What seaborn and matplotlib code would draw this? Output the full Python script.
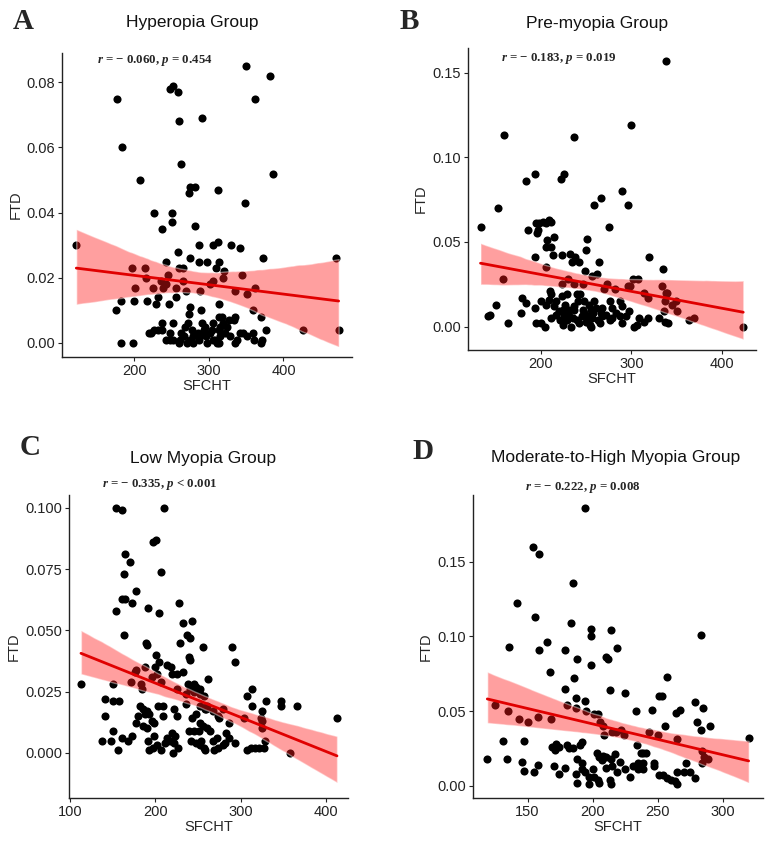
import numpy as np
import pandas as pd
import seaborn as sns
import matplotlib.pyplot as plt
from matplotlib.ticker import FormatStrFormatter

# values (SFCHT, FTD)
hyper_sfcht = [122, 177, 184, 208, 248, 252, 259, 260, 291, 263, 273, 275, 281, 312, 350, 382, 362, 386, 349,
               226, 251, 251, 237, 281, 258, 243, 275, 287, 306, 312, 329, 341, 287, 297, 314, 373, 470, 260,
               265, 197, 214, 309, 320, 345, 319, 215, 245, 201, 225, 235, 239, 243, 256, 265, 269, 288, 301,
               306, 335, 351, 362, 182, 199, 217, 229, 232, 246, 256, 175, 275, 273, 289, 314, 359, 370, 335,
               314, 327, 182, 198, 426, 474, 361, 370,
               220, 222, 226, 237, 237, 243, 248, 252, 252, 260, 262, 266, 270, 272, 277, 278, 268, 285, 287,
               290, 293, 296, 297, 302, 306, 308, 311, 313, 315, 317, 319, 322, 324, 328, 333, 337, 342, 346,
               351, 359, 377, 371, 335, 232, 279, 288, 304, 313, 306, 261, 295, 315, 274, 248]
hyper_ftd = [0.030, 0.075, 0.060, 0.050, 0.078, 0.079, 0.077, 0.068, 0.069, 0.055, 0.046, 0.048, 0.048, 0.047,
             0.085, 0.082, 0.075, 0.052, 0.043, 0.040, 0.040, 0.037, 0.035, 0.036, 0.028, 0.025, 0.026, 0.030,
             0.030, 0.031, 0.030, 0.029, 0.025, 0.025, 0.025, 0.026, 0.026, 0.023, 0.023, 0.023, 0.023, 0.023,
             0.022, 0.021, 0.020, 0.020, 0.021, 0.017, 0.017, 0.019, 0.017, 0.018, 0.017, 0.019, 0.016, 0.016,
             0.018, 0.019, 0.016, 0.015, 0.017, 0.013, 0.013, 0.013, 0.012, 0.014, 0.012, 0.014, 0.010, 0.011,
             0.009, 0.010, 0.012, 0.010, 0.008, 0.008, 0.008, 0.007, 0.000, 0.000, 0.004, 0.004, 0.001, 0.000,
             0.003, 0.003, 0.004, 0.006, 0.004, 0.001, 0.001, 0.001, 0.006, 0.000, 0.003, 0.002, 0.000, 0.006,
             0.004, 0.000, 0.005, 0.003, 0.001, 0.006, 0.004, 0.002, 0.000, 0.003, 0.006, 0.001, 0.000, 0.004,
             0.002, 0.008, 0.006, 0.003, 0.005, 0.002, 0.007, 0.001, 0.003, 0.003, 0.002, 0.003, 0.004, 0.001,
             0.000, 0.004, 0.002, 0.002, 0.004, 0.000, 0.001, 0.001, 0.005, 0.005, 0.001, 0.003]

premyo_sfcht = [338, 300, 159, 237, 193, 226, 183, 222, 290, 296, 259, 267, 152, 133, 275, 186, 195, 198, 202,
                209, 211, 206, 196, 197, 214, 207, 211, 205, 251, 250, 193, 213, 223, 232, 238, 234, 242, 264,
                320, 335, 205, 249, 257, 262, 302, 307, 158, 230, 223, 237, 247, 273, 270, 282, 296, 299, 334,
                339, 314, 319, 210, 211, 240, 243, 223, 179, 183, 200, 206, 209, 214, 217, 229, 227, 241, 237,
                236, 248, 253, 259, 261, 268, 266, 279, 276, 287, 290, 297, 294, 309, 336, 337, 340, 349, 345,
                351, 331, 337, 341, 364, 370, 424, 314, 319, 303, 306, 143, 141, 150, 164, 178, 193, 194, 200,
                204, 211, 217, 220, 221, 224, 226, 229, 231, 233, 235, 240, 242, 245, 248, 250, 252, 254, 255,
                257, 258, 263, 265, 268, 272, 276, 279, 283, 288, 290, 224, 231, 246, 255, 227]
premyo_ftd = [0.157, 0.119, 0.113, 0.112, 0.090, 0.090, 0.086, 0.087, 0.080, 0.072, 0.072, 0.076, 0.070, 0.059,
              0.059, 0.057, 0.061, 0.061, 0.062, 0.063, 0.062, 0.061, 0.055, 0.057, 0.053, 0.051, 0.047, 0.047,
              0.052, 0.045, 0.041, 0.042, 0.042, 0.043, 0.041, 0.038, 0.038, 0.038, 0.041, 0.034, 0.035, 0.033,
              0.030, 0.031, 0.028, 0.028, 0.028, 0.028, 0.025, 0.025, 0.025, 0.025, 0.022, 0.022, 0.024, 0.024,
              0.024, 0.020, 0.020, 0.017, 0.021, 0.019, 0.019, 0.019, 0.018, 0.017, 0.014, 0.015, 0.013, 0.016,
              0.012, 0.015, 0.019, 0.013, 0.015, 0.012, 0.010, 0.015, 0.013, 0.015, 0.011, 0.011, 0.008, 0.011,
              0.015, 0.015, 0.012, 0.009, 0.006, 0.005, 0.009, 0.015, 0.020, 0.015, 0.013, 0.009, 0.005, 0.003,
              0.002, 0.004, 0.005, 0.000, 0.003, 0.005, 0.000, 0.001, 0.007, 0.006, 0.013, 0.002, 0.008, 0.011,
              0.002, 0.002, 0.000, 0.005, 0.007, 0.009, 0.004, 0.001, 0.007, 0.004, 0.006, 0.000, 0.005, 0.004,
              0.002, 0.006, 0.008, 0.003, 0.006, 0.001, 0.000, 0.005, 0.008, 0.004, 0.002, 0.006, 0.007, 0.004,
              0.005, 0.008, 0.006, 0.002, 0.010, 0.010, 0.010, 0.010, 0.004]

lowmyo_sfcht = [154, 161, 210, 197, 201, 207, 165, 171, 164, 177, 161, 165, 173, 228, 154, 192, 205, 232, 243,
                164, 237, 241, 229, 189, 190, 256, 290, 293, 240, 241, 201, 204, 214, 218, 200, 188, 220, 225,
                233, 178, 176, 172, 196, 202, 207, 183, 184, 113, 150, 238, 242, 245, 248, 252, 241, 252, 257,
                245, 262, 226, 236, 236, 307, 313, 313, 330, 347, 347, 366, 413, 325, 324, 325, 329, 325, 304,
                280, 275, 286, 283, 286, 293, 358, 307, 312, 317, 322, 327, 261, 259, 268, 273, 252, 258, 248,
                243, 252, 256, 240, 246, 251, 261, 264, 242, 248, 252, 257, 254, 258, 269, 274, 279, 282, 272,
                268, 141, 141, 150, 158, 138, 148, 150, 156, 161, 168, 173, 177, 180, 182, 186, 188, 190, 193,
                186, 190, 196, 199, 192, 193, 197, 199, 202, 203, 209, 209, 207, 212, 214, 217, 220, 222, 223,
                222, 225, 221, 227]
lowmyo_ftd = [0.100, 0.099, 0.100, 0.086, 0.087, 0.074, 0.081, 0.078, 0.073, 0.066, 0.063, 0.063, 0.061, 0.061,
              0.058, 0.059, 0.057, 0.053, 0.054, 0.048, 0.048, 0.047, 0.045, 0.045, 0.044, 0.043, 0.043, 0.037,
              0.039, 0.038, 0.040, 0.037, 0.036, 0.035, 0.035, 0.035, 0.032, 0.032, 0.033, 0.034, 0.033, 0.029,
              0.031, 0.032, 0.029, 0.028, 0.026, 0.028, 0.028, 0.028, 0.027, 0.028, 0.027, 0.026, 0.026, 0.024,
              0.023, 0.025, 0.030, 0.026, 0.024, 0.020, 0.023, 0.026, 0.019, 0.021, 0.021, 0.019, 0.019, 0.014,
              0.017, 0.014, 0.010, 0.005, 0.013, 0.014, 0.018, 0.014, 0.012, 0.008, 0.006, 0.004, 0.000, 0.001,
              0.002, 0.002, 0.002, 0.002, 0.019, 0.018, 0.017, 0.015, 0.019, 0.018, 0.016, 0.014, 0.012, 0.011,
              0.009, 0.009, 0.009, 0.010, 0.009, 0.005, 0.004, 0.003, 0.002, 0.005, 0.001, 0.001, 0.002, 0.003,
              0.004, 0.006, 0.005, 0.022, 0.015, 0.021, 0.021, 0.005, 0.005, 0.009, 0.001, 0.006, 0.005, 0.007,
              0.012, 0.015, 0.019, 0.018, 0.016, 0.017, 0.016, 0.011, 0.010, 0.013, 0.012, 0.005, 0.001, 0.002,
              0.007, 0.003, 0.019, 0.019, 0.015, 0.001, 0.004, 0.006, 0.005, 0.008, 0.004, 0.007, 0.018, 0.015,
              0.000, 0.002]

modhigh_sfcht = [194, 154, 159, 185, 142, 156, 183, 199, 199, 214, 283, 136, 165, 159, 179, 219, 188, 210, 212,
                 199, 167, 186, 257, 179, 213, 225, 187, 194, 251, 253, 180, 187, 195, 125, 135, 143, 150, 158,
                 168, 233, 246, 264, 267, 280, 285, 279, 290, 256, 201, 204, 206, 208, 209, 215, 218, 222, 224,
                 243, 250, 234, 265, 283, 320, 119, 131, 134, 147, 146, 147, 155, 158, 169, 172, 171, 174, 180,
                 182, 185, 190, 192, 179, 170, 174, 188, 187, 188, 192, 192, 194, 197, 197, 200, 201, 204, 205,
                 203, 205, 207, 208, 210, 213, 214, 210, 214, 217, 215, 219, 221, 225, 229, 231, 235, 237, 239,
                 241, 235, 239, 239, 247, 247, 251, 254, 257, 260, 263, 265, 265, 270, 272, 275, 279, 284, 286,
                 284, 289]
modhigh_ftd = [0.186, 0.160, 0.155, 0.136, 0.122, 0.113, 0.109, 0.105, 0.100, 0.104, 0.101, 0.093, 0.096, 0.091,
               0.091, 0.092, 0.085, 0.086, 0.085, 0.081, 0.076, 0.072, 0.073, 0.065, 0.064, 0.062, 0.059, 0.057,
               0.060, 0.060, 0.054, 0.052, 0.050, 0.054, 0.050, 0.045, 0.043, 0.046, 0.045, 0.050, 0.051, 0.049,
               0.051, 0.043, 0.052, 0.056, 0.040, 0.040, 0.048, 0.048, 0.043, 0.040, 0.034, 0.036, 0.036, 0.037,
               0.034, 0.036, 0.034, 0.027, 0.031, 0.037, 0.032, 0.018, 0.030, 0.018, 0.030, 0.016, 0.010, 0.009,
               0.014, 0.026, 0.028, 0.024, 0.026, 0.027, 0.025, 0.025, 0.027, 0.029, 0.012, 0.013, 0.008, 0.018,
               0.008, 0.002, 0.015, 0.011, 0.009, 0.006, 0.001, 0.011, 0.006, 0.004, 0.002, 0.022, 0.019, 0.017,
               0.020, 0.019, 0.004, 0.001, 0.012, 0.018, 0.021, 0.013, 0.009, 0.016, 0.011, 0.006, 0.013, 0.011,
               0.022, 0.022, 0.022, 0.015, 0.015, 0.011, 0.015, 0.013, 0.007, 0.007, 0.005, 0.004, 0.003, 0.001,
               0.009, 0.009, 0.015, 0.009, 0.005, 0.015, 0.019, 0.023, 0.018]

letters = ["A", "B", "C", "D"]
titles = ["Hyperopia Group", "Pre-myopia Group", "Low Myopia Group", "Moderate-to-High Myopia Group"]
r_values = ["0.060", "0.183", "0.335", "0.222"]
p_texts = ["= 0.454", "= 0.019", "< 0.001", "= 0.008"]

groups = [(hyper_sfcht, hyper_ftd), (premyo_sfcht, premyo_ftd),
          (lowmyo_sfcht, lowmyo_ftd), (modhigh_sfcht, modhigh_ftd)]

sns.set_style("white")
plt.rcParams["font.family"] = ["Liberation Sans", "DejaVu Sans"]
plt.rcParams["mathtext.fontset"] = "custom"
plt.rcParams["mathtext.it"] = "Liberation Serif:italic:bold"
plt.rcParams["mathtext.rm"] = "Liberation Serif:bold"

fig = plt.figure(figsize=(7.67, 8.41), dpi=100)

# layout per panel
ax_pos = [[0.081, 0.5755, 0.378, 0.3615], [0.610, 0.5838, 0.3755, 0.359],
          [0.090, 0.0511, 0.3638, 0.3603], [0.6167, 0.0511, 0.378, 0.3603]]
xlims = [(103, 492), (119, 438), (99, 426), (108, 331)]
ylims = [(-0.0043, 0.089), (-0.0138, 0.1644), (-0.0185, 0.1053), (-0.0082, 0.1946)]
xticks = [[200, 300, 400], [200, 300, 400], [100, 200, 300, 400], [150, 200, 250, 300]]
yticks = [[0, 0.02, 0.04, 0.06, 0.08], [0, 0.05, 0.10, 0.15],
          [0, 0.025, 0.05, 0.075, 0.1], [0, 0.05, 0.10, 0.15]]
yfmt = ["%.2f", "%.2f", "%.3f", "%.2f"]
title_xy = [(0.448, 1.10), (0.448, 1.083), (0.48, 1.119), (0.493, 1.125)]
annot_xy = [(0.12, 0.974), (0.115, 0.967), (0.118, 1.036), (0.179, 1.026)]
letter_xy = [(0.017, 0.975), (0.521, 0.975), (0.026, 0.468), (0.538, 0.463)]

for i, (xs, ys) in enumerate(groups):
    df = pd.DataFrame({"SFCHT": xs, "FTD": ys})
    ax = fig.add_axes(ax_pos[i])
    sns.regplot(data=df, x="SFCHT", y="FTD", ax=ax, ci=95, seed=3,
                scatter_kws=dict(s=34, color="black", linewidths=0, alpha=1),
                line_kws=dict(color="#e00000", lw=2))
    band = ax.collections[-1]
    band.set_facecolor("#ff1a1a")
    band.set_alpha(0.42)
    ax.set_xlim(*xlims[i])
    ax.set_ylim(*ylims[i])
    ax.set_xticks(xticks[i])
    ax.set_yticks(yticks[i])
    ax.yaxis.set_major_formatter(FormatStrFormatter(yfmt[i]))
    ax.tick_params(axis="both", length=3, width=0.8, color="#222222", labelsize=10.5,
                   labelcolor="#222222", pad=2, direction="out", bottom=True, left=True)
    ax.set_xlabel("SFCHT", fontsize=10.5, labelpad=1)
    ax.set_ylabel("FTD", fontsize=10.5, labelpad=3)
    sns.despine(ax=ax)
    for side in ["left", "bottom"]:
        ax.spines[side].set_color("#222222")
        ax.spines[side].set_linewidth(1.0)
    ax.text(*title_xy[i], titles[i], transform=ax.transAxes, ha="center", va="center",
            fontsize=12.5, color="#111111")
    ax.text(*annot_xy[i], rf"$r$ = − {r_values[i]}, $p$ {p_texts[i]}", transform=ax.transAxes,
            ha="left", va="center", fontsize=9.3, fontweight="bold", family="Liberation Serif")
    fig.text(*letter_xy[i], letters[i], fontsize=21, fontweight="bold",
             family="Liberation Serif", ha="left", va="center")

fig.savefig("out.png", dpi=100)
